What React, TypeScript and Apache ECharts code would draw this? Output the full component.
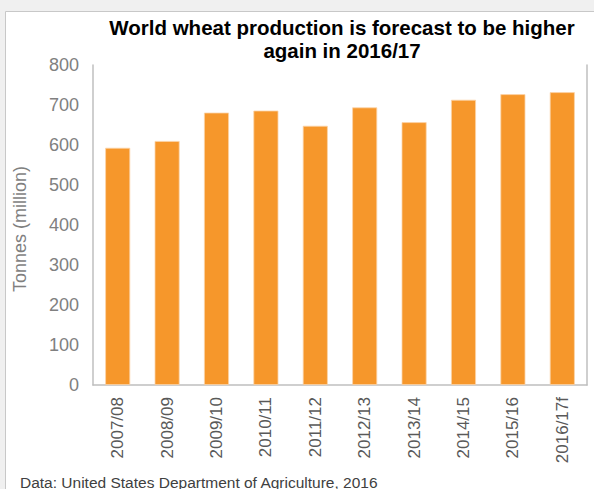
import React, { useEffect, useRef } from "react";
import * as echarts from "echarts";

const categories = ["2007/08", "2008/09", "2009/10", "2010/11", "2011/12", "2012/13", "2013/14", "2014/15", "2015/16", "2016/17f"];
const production = [593, 610, 681, 686, 648, 694, 657, 713, 727, 732];
const titleLines = ["World wheat production is forecast to be higher", "again in 2016/17"];
const yAxisName = "Tonnes (million)";
const sourceNote = "Data: United States Department of Agriculture, 2016";

const FONT = "'Liberation Sans', Arial, sans-serif";

export default function App() {
  const ref = useRef<HTMLDivElement>(null);
  useEffect(() => {
    if (!ref.current) return;
    const chart = echarts.init(ref.current, null, { renderer: "svg" });
    chart.setOption({
      animation: false,
      backgroundColor: "#f0f0f0",
      textStyle: { fontFamily: FONT },
      title: {
        text: titleLines.join("\n"),
        left: 337,
        top: 11,
        textAlign: "center",
        textStyle: { fontSize: 20.5, fontWeight: "bold", color: "#000", lineHeight: 23, fontFamily: FONT },
      },
      graphic: [
        {
          type: "rect",
          z: -10,
          shape: { x: 5.5, y: 11.5, width: 620, height: 520 },
          style: { fill: "#ffffff", stroke: "#c8c8c8", lineWidth: 1 },
        },
        {
          type: "text",
          x: 20,
          y: 474,
          style: { text: sourceNote, fontSize: 15.5, fill: "#404040", fontFamily: FONT },
        },
      ],
      grid: { left: 93, right: 7, top: 65, bottom: 104, containLabel: false },
      xAxis: {
        type: "category",
        data: categories,
        axisLine: { show: true, lineStyle: { color: "#bfbfbf", width: 1.5 } },
        axisTick: { show: false },
        axisLabel: { rotate: 90, margin: 12, fontSize: 17, color: "#595959", fontFamily: FONT, interval: 0 },
      },
      yAxis: [
        {
          type: "value",
          min: 0,
          max: 800,
          interval: 100,
          name: yAxisName,
          nameLocation: "middle",
          nameRotate: 90,
          nameGap: 64,
          nameTextStyle: { fontSize: 18, color: "#7f7f7f", fontFamily: FONT, padding: [0, 0, 0, -8] },
          axisLine: { show: true, lineStyle: { color: "#bfbfbf", width: 1.5 } },
          axisTick: { show: false },
          splitLine: { show: false },
          axisLabel: { margin: 14, fontSize: 18, color: "#808080", fontFamily: FONT },
        },
        {
          type: "value",
          min: 0,
          max: 800,
          interval: 100,
          position: "right",
          axisLine: { show: true, lineStyle: { color: "#bfbfbf", width: 1.5 } },
          axisTick: { show: false },
          splitLine: { show: false },
          axisLabel: { show: false },
        },
      ],
      series: [
        {
          type: "bar",
          data: production,
          barWidth: 25,
          itemStyle: { color: "#f6972b", borderColor: "#fbd3a8", borderWidth: 0.8 },
        },
      ],
    });
    return () => chart.dispose();
  }, []);
  return (
    <div style={{ position: "fixed", left: 0, top: 0, width: 594, height: 489 }}>
      <div ref={ref} style={{ width: 594, height: 489 }} />
    </div>
  );
}
